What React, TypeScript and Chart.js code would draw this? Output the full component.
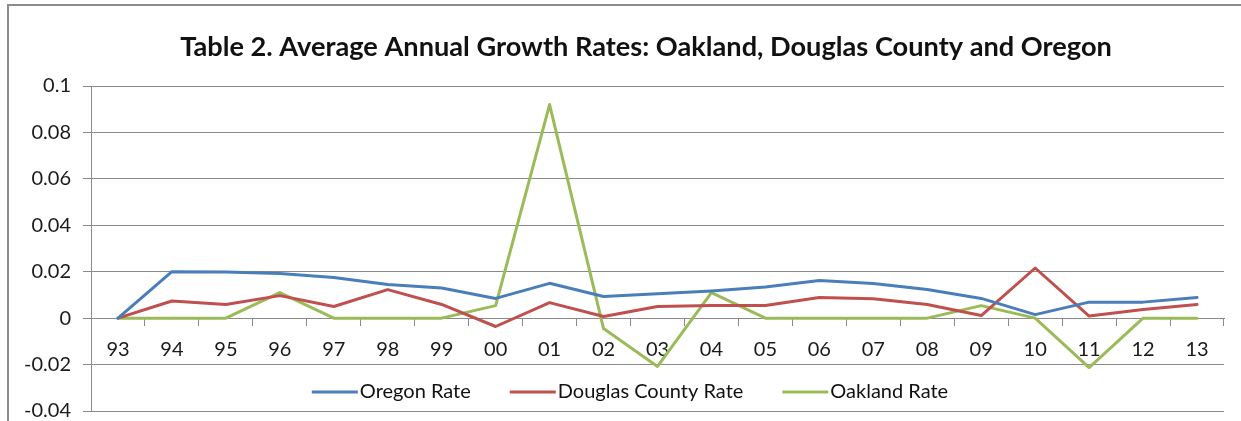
import React, { useEffect, useRef } from "react";
import { Chart, registerables } from "chart.js";

Chart.register(...registerables);

const chartTitle = "Table 2. Average Annual Growth Rates: Oakland, Douglas County and Oregon";
const years = ["93", "94", "95", "96", "97", "98", "99", "00", "01", "02", "03", "04", "05", "06", "07", "08", "09", "10", "11", "12", "13"];
const seriesNames = ["Oregon Rate", "Douglas County Rate", "Oakland Rate"];
const oregonRate = [0, 0.0200, 0.0199, 0.0192, 0.0175, 0.0145, 0.0130, 0.0085, 0.0150, 0.0093, 0.0105, 0.0117, 0.0134, 0.0162, 0.0149, 0.0123, 0.0085, 0.0015, 0.0069, 0.0069, 0.0089];
const douglasRate = [0, 0.0074, 0.0059, 0.0097, 0.0050, 0.0123, 0.0059, -0.0036, 0.0067, 0.0007, 0.0050, 0.0054, 0.0054, 0.0089, 0.0084, 0.0059, 0.0011, 0.0216, 0.0009, 0.0037, 0.0059];
const oaklandRate = [0, 0, 0, 0.0110, 0, 0, 0, 0.0054, 0.0920, -0.0045, -0.0208, 0.0110, 0, 0, 0, 0, 0.0054, 0, -0.0213, 0, 0];
const yMin = -0.04;
const yMax = 0.1;
const yStep = 0.02;
const seriesColors = ["#4A7EBB", "#C0504D", "#9BBB59"];

const FONT = "Lato, 'Open Sans', sans-serif";

const titlePlugin = {
  id: "excelTitle",
  afterDraw(chart: any) {
    const ctx = chart.ctx;
    ctx.save();
    let size = 22;
    ctx.font = `bold ${size}px ${FONT}`;
    const w = ctx.measureText(chartTitle).width;
    size = size * 932 / w;
    ctx.font = `bold ${size}px ${FONT}`;
    ctx.fillStyle = "#111";
    ctx.textAlign = "center";
    ctx.textBaseline = "middle";
    ctx.fillText(chartTitle, 646, 47);
    ctx.restore();
  },
};

const legendPlugin = {
  id: "excelLegend",
  afterDraw(chart: any) {
    const ctx = chart.ctx;
    ctx.save();
    ctx.font = `20px ${FONT}`;
    const items = chart.data.datasets.map((ds: any) => ({
      label: ds.label,
      color: ds.borderColor,
      w: ctx.measureText(ds.label).width,
    }));
    const lineW = 46, gap = 2, spacing = 39;
    const total = items.reduce((s: number, it: any) => s + lineW + gap + it.w, 0) + spacing * (items.length - 1);
    let x = 630 - total / 2;
    const y = chart.chartArea.bottom - 19;
    ctx.textBaseline = "middle";
    ctx.textAlign = "left";
    for (const it of items) {
      ctx.strokeStyle = it.color;
      ctx.lineWidth = 3;
      ctx.beginPath();
      ctx.moveTo(x, y);
      ctx.lineTo(x + lineW, y);
      ctx.stroke();
      ctx.fillStyle = "#111";
      ctx.fillText(it.label, x + lineW + gap, y);
      x += lineW + gap + it.w + spacing;
    }
    ctx.restore();
  },
};

export default function App() {
  const ref = useRef<HTMLCanvasElement | null>(null);

  useEffect(() => {
    if (!ref.current) return;
    const seriesData = [oregonRate, douglasRate, oaklandRate];
    const chart = new Chart(ref.current, {
      type: "line",
      data: {
        labels: years,
        datasets: seriesNames.map((name, i) => ({
          label: name,
          data: seriesData[i],
          borderColor: seriesColors[i],
          backgroundColor: seriesColors[i],
          borderWidth: 3,
          pointRadius: 0,
          tension: 0,
          borderJoinStyle: "round" as const,
          borderCapStyle: "round" as const,
        })),
      },
      options: {
        animation: false,
        responsive: false,
        maintainAspectRatio: false,
        layout: { padding: { left: 8, right: 17, top: 86, bottom: 10 } },
        plugins: {
          legend: { display: false },
          title: { display: false },
          tooltip: { enabled: false },
        },
        scales: {
          x: {
            type: "category",
            position: { y: 0 } as any,
            offset: true,
            grid: {
              offset: true,
              drawOnChartArea: false,
              drawTicks: true,
              tickLength: 7,
              color: "#8a8a8a",
            },
            border: { display: true, color: "#8a8a8a", width: 1 },
            ticks: {
              color: "#1a1a1a",
              font: { family: FONT, size: 20 },
              padding: 12,
              maxRotation: 0,
              autoSkip: false,
            },
            afterFit: (scale: any) => {
              scale.height = 0;
              scale.paddingTop = 0;
              scale.paddingBottom = 0;
            },
          },
          y: {
            min: yMin,
            max: yMax,
            grid: { color: "#8a8a8a", tickLength: 8, lineWidth: 1 },
            border: { display: true, color: "#8a8a8a", width: 1 },
            ticks: {
              stepSize: yStep,
              color: "#1a1a1a",
              font: { family: FONT, size: 20 },
              padding: 12,
              callback: (v: any) => String(Number(Number(v).toFixed(2))),
            },
            afterFit: (scale: any) => {
              scale.width = 83;
              scale.paddingTop = 0;
              scale.paddingBottom = 0;
            },
          },
        },
      },
      plugins: [titlePlugin, legendPlugin],
    });
    return () => chart.destroy();
  }, []);

  return (
    <div style={{ position: "fixed", left: 0, top: 0, width: 1241, height: 421, background: "#fff" }}>
      <canvas ref={ref} width={1241} height={421} style={{ position: "absolute", left: 0, top: 0 }} />
      <div
        style={{
          position: "absolute",
          left: 7,
          top: 4,
          right: -10,
          bottom: -10,
          borderTop: "2px solid #8c8c8c",
          borderLeft: "2px solid #8c8c8c",
          pointerEvents: "none",
        }}
      />
    </div>
  );
}
